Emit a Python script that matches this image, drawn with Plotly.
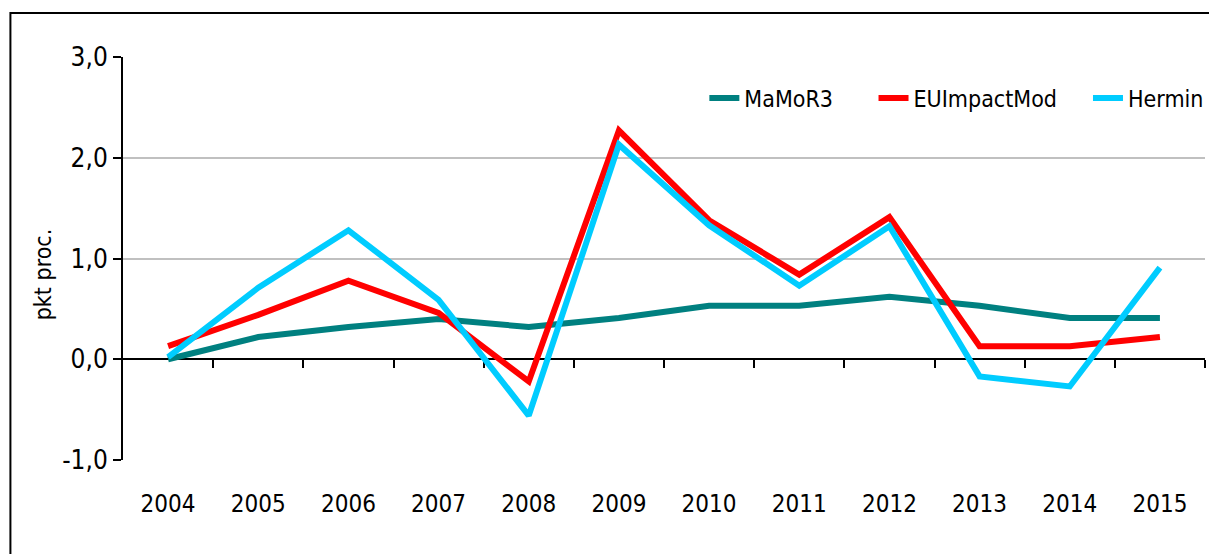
import plotly.graph_objects as go

years = [2004, 2005, 2006, 2007, 2008, 2009, 2010, 2011, 2012, 2013, 2014, 2015]
mamor3 = [0.00, 0.22, 0.32, 0.40, 0.32, 0.41, 0.53, 0.53, 0.62, 0.53, 0.41, 0.41]
euimpact = [0.13, 0.44, 0.78, 0.46, -0.22, 2.27, 1.38, 0.84, 1.41, 0.13, 0.13, 0.22]
hermin = [0.02, 0.71, 1.28, 0.59, -0.56, 2.13, 1.33, 0.73, 1.32, -0.17, -0.27, 0.91]

series_names = ["MaMoR3", "EUImpactMod", "Hermin"]
series_colors = ["#008080", "#FF0000", "#00CCFF"]
legend_ids = ["legend", "legend2", "legend3"]
y_ticks = [-1, 0, 1, 2, 3]
y_ticktext = ["-1,0", "0,0", "1,0", "2,0", "3,0"]
boundaries = [y + 0.5 for y in years]

FONT = "DejaVu Sans Condensed, Liberation Sans Narrow, sans-serif"

fig = go.Figure()
for name, vals, col, lg in zip(series_names, [mamor3, euimpact, hermin], series_colors, legend_ids):
    fig.add_trace(go.Scatter(x=years, y=vals, name=name, mode="lines", legend=lg,
                             line=dict(color=col, width=6)))

# invisible trace to activate the secondary x axis (tick marks on the zero line)
fig.add_trace(go.Scatter(x=years, y=mamor3, xaxis="x2", mode="lines",
                         line=dict(width=0), opacity=0, showlegend=False,
                         hoverinfo="skip"))

W, H = 1209, 554
L, R, T, B = 123, 0, 57, 94
pw = W - L - R
ph = H - T - B

def px_x(px):
    return (px - L) / pw

def px_y(py):
    return (H - B - py) / ph

legend_right_px = [841, 1066, 1213]

def make_legend(rpx):
    return dict(orientation="h", x=px_x(rpx), xanchor="right", y=px_y(98), yanchor="middle",
                font=dict(family=FONT, size=23, color="black"),
                bgcolor="rgba(0,0,0,0)", itemwidth=30)

fig.update_layout(
    width=W, height=H,
    margin=dict(l=L, r=R, t=T, b=B),
    paper_bgcolor="white", plot_bgcolor="white",
    font=dict(family=FONT, size=22, color="black"),
    showlegend=True,
    legend=make_legend(legend_right_px[0]),
    legend2=make_legend(legend_right_px[1]),
    legend3=make_legend(legend_right_px[2]),
    xaxis=dict(range=[2003.5, 2015.5], tickmode="array", tickvals=years,
               ticktext=[str(y) for y in years], showgrid=False, zeroline=False,
               showline=False, ticks="", ticklabelstandoff=27,
               tickfont=dict(family=FONT, size=24, color="black")),
    xaxis2=dict(matches="x", overlaying="x", anchor="free", position=0.25, side="bottom",
                tickmode="array", tickvals=boundaries, showticklabels=False,
                ticks="outside", ticklen=8, tickwidth=2, tickcolor="black",
                showline=True, linecolor="black", linewidth=2, showgrid=False,
                zeroline=False, layer="below traces"),
    yaxis=dict(range=[-1, 3], tickmode="array", tickvals=y_ticks, ticktext=y_ticktext,
               showgrid=True, gridcolor="#C0C0C0", gridwidth=2, zeroline=False,
               showline=True, linecolor="black", linewidth=2, ticks="outside",
               ticklen=8, tickwidth=2, tickcolor="black", layer="below traces",
               tickfont=dict(family=FONT, size=26, color="black")),
    annotations=[dict(text="pkt proc.", xref="paper", yref="paper", x=px_x(43), y=px_y(274),
                      xanchor="center", yanchor="middle", textangle=-90, showarrow=False,
                      font=dict(family=FONT, size=23, color="black"))],
    shapes=[dict(type="rect", xref="paper", yref="paper", x0=px_x(10), x1=px_x(1240),
                 y0=px_y(600), y1=px_y(13), line=dict(color="black", width=2),
                 fillcolor="rgba(0,0,0,0)", layer="below")],
)

fig.write_html("out.html", config={"displayModeBar": False},
               post_script="document.body.style.margin='0';")
